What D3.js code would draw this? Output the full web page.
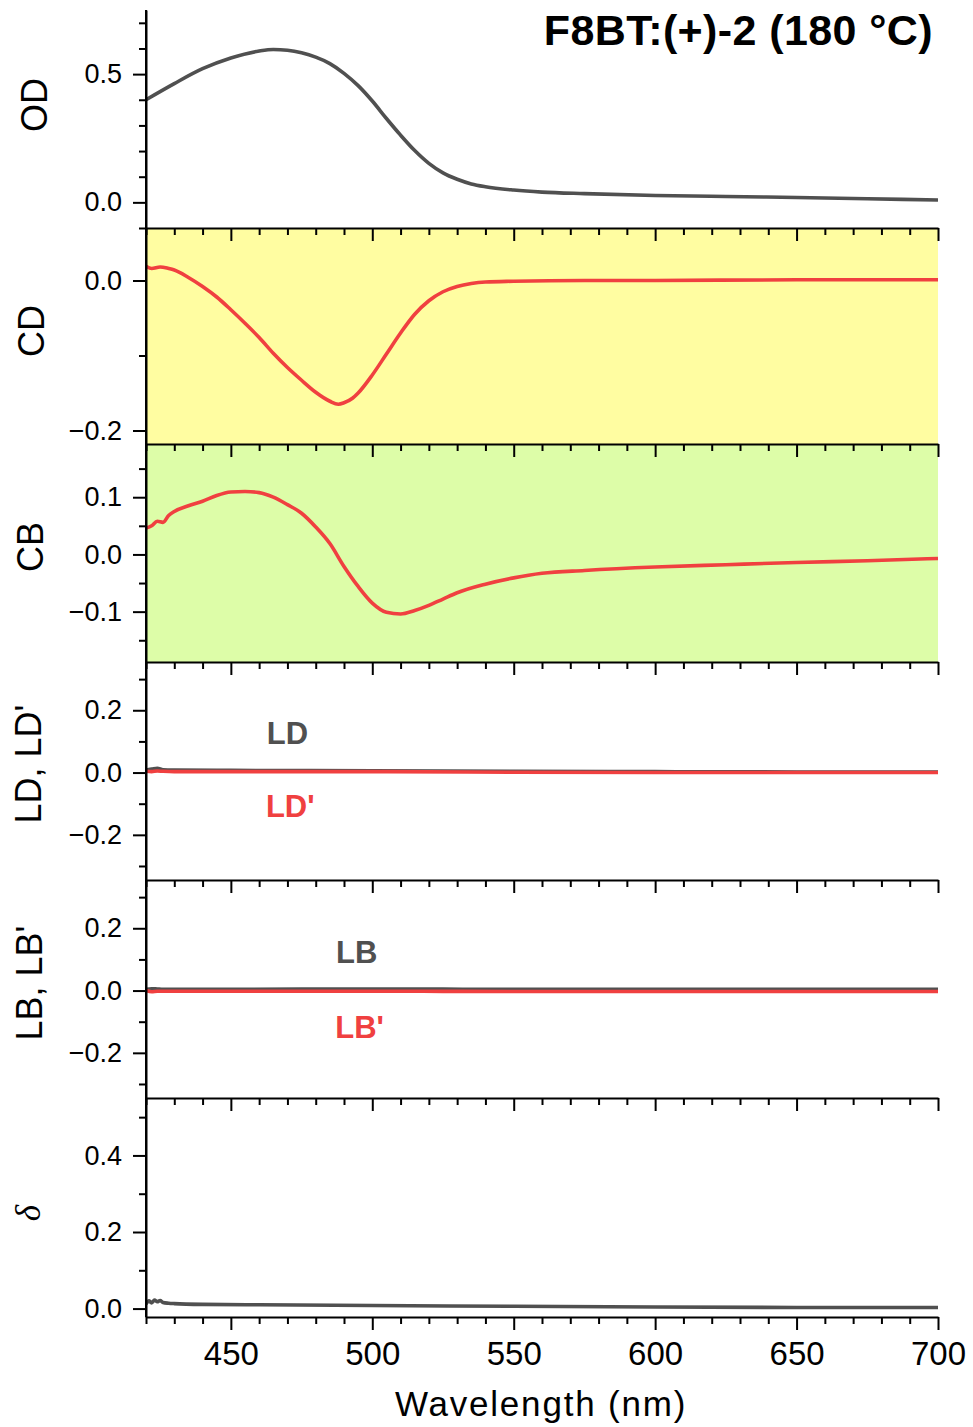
<!DOCTYPE html>
<html>
<head>
<meta charset="utf-8">
<script src="https://cdn.jsdelivr.net/npm/d3@7"></script>
<style>
  body { margin: 0; background: #fff; }
  text { font-family: "Liberation Sans", Arial, sans-serif; }
</style>
</head>
<body>
<div id="chart"></div>
<script>
// spectra (wavelength in nm)
let odWl  = [420, 430, 440, 450, 460, 465, 470, 475, 480, 485, 490, 495, 500, 505, 510, 515, 520, 525, 530, 535, 540, 550, 560, 575, 600, 625, 650, 675, 700]
let odVal = [0.400, 0.463, 0.521, 0.563, 0.590, 0.596, 0.593, 0.583, 0.566, 0.541, 0.503, 0.455, 0.395, 0.327, 0.262, 0.202, 0.152, 0.115, 0.090, 0.072, 0.061, 0.048, 0.040, 0.034, 0.027, 0.023, 0.019, 0.014, 0.009]

let cdWl  = [420, 422, 425, 428, 430, 435, 440, 445, 450, 455, 460, 465, 470, 475, 480, 485, 488, 490, 493, 495, 500, 505, 510, 515, 520, 525, 530, 535, 540, 550, 575, 600, 650, 700]
let cdVal = [0.019, 0.016, 0.018, 0.016, 0.014, 0.004, -0.008, -0.022, -0.039, -0.057, -0.076, -0.097, -0.116, -0.133, -0.149, -0.161, -0.165, -0.163, -0.157, -0.150, -0.126, -0.098, -0.070, -0.045, -0.027, -0.015, -0.008, -0.004, -0.002, -0.001, 0.000, 0.000, 0.001, 0.001]

let cbWl  = [420, 422, 424, 426, 428, 430, 435, 440, 445, 450, 455, 460, 465, 470, 475, 480, 485, 490, 495, 500, 505, 510, 515, 520, 525, 530, 540, 550, 560, 575, 600, 625, 650, 675, 700]
let cbVal = [0.046, 0.050, 0.058, 0.056, 0.068, 0.075, 0.085, 0.093, 0.103, 0.109, 0.110, 0.108, 0.100, 0.087, 0.072, 0.048, 0.019, -0.021, -0.056, -0.085, -0.101, -0.104, -0.098, -0.089, -0.078, -0.067, -0.052, -0.041, -0.033, -0.028, -0.022, -0.018, -0.014, -0.011, -0.007]

let linWl  = [420, 422, 424, 426, 430, 450, 500, 550, 600, 650, 700]
let ldVal  = [0.008, 0.011, 0.014, 0.009, 0.008, 0.007, 0.006, 0.004, 0.003, 0.002, 0.002]
let ldpVal = [0.004, 0.003, 0.005, 0.004, 0.003, 0.003, 0.003, 0.001, 0.000, 0.000, 0.000]
let lbVal  = [0.004, 0.006, 0.005, 0.004, 0.004, 0.004, 0.005, 0.004, 0.004, 0.004, 0.004]
let lbpVal = [0.000, -0.004, -0.002, -0.002, -0.002, -0.002, -0.002, -0.003, -0.003, -0.003, -0.003]

let dWl  = [420, 421, 422, 423, 424, 425, 426, 428, 430, 440, 460, 500, 550, 600, 650, 700]
let dVal = [0.012, 0.020, 0.015, 0.022, 0.018, 0.021, 0.016, 0.014, 0.013, 0.011, 0.010, 0.008, 0.006, 0.004, 0.003, 0.003]

// ticks
let xMajor = [450, 500, 550, 600, 650, 700]
let xMinor = [420, 430, 440, 460, 470, 480, 490, 510, 520, 530, 540, 560, 570, 580, 590, 610, 620, 630, 640, 660, 670, 680, 690]
let odMajor = [0.0, 0.5],          odMinor = [-0.1, 0.1, 0.2, 0.3, 0.4, 0.6, 0.7]
let cdMajor = [-0.2, 0.0],         cdMinor = [-0.1]
let cbMajor = [-0.1, 0.0, 0.1],    cbMinor = [-0.15, -0.05, 0.05, 0.15]
let lMajor  = [-0.2, 0.0, 0.2],    lMinor  = [-0.3, -0.1, 0.1, 0.3]
let dMajor  = [0.0, 0.2, 0.4],     dMinor  = [0.1, 0.3, 0.5]

let gray = "#505050"
let red = "#f04040"

let width = 973, height = 1427
let svg = d3.select("#chart").append("svg")
    .attr("width", width)
    .attr("height", height)

let x = d3.scaleLinear().domain([420, 700]).range([146, 938])

let panels = [
    {title: "OD", top: 10, bottom: 228, domain: [-0.1, 0.75], major: odMajor, minor: odMinor, fill: null, topAxis: false,
     titleX: 47, titleY: 105, series: [{wl: odWl, val: odVal, color: gray}]},
    {title: "CD", top: 228, bottom: 444, domain: [-0.218, 0.07], major: cdMajor, minor: cdMinor, fill: "#fffda1", topAxis: true,
     titleX: 44, titleY: 331, series: [{wl: cdWl, val: cdVal, color: red}]},
    {title: "CB", top: 444, bottom: 662, domain: [-0.188, 0.193], major: cbMajor, minor: cbMinor, fill: "#ddfda8", topAxis: true,
     titleX: 43, titleY: 547, series: [{wl: cbWl, val: cbVal, color: red}]},
    {title: "LD, LD'", top: 662, bottom: 880, domain: [-0.345, 0.355], major: lMajor, minor: lMinor, fill: null, topAxis: true,
     titleX: 41, titleY: 764, series: [{wl: linWl, val: ldVal, color: gray}, {wl: linWl, val: ldpVal, color: red}],
     notes: [{text: "LD", wl: 470, v: 0.092, color: gray}, {text: "LD'", wl: 471, v: -0.142, color: red}]},
    {title: "LB, LB'", top: 880, bottom: 1098, domain: [-0.345, 0.355], major: lMajor, minor: lMinor, fill: null, topAxis: true,
     titleX: 42, titleY: 983, series: [{wl: linWl, val: lbVal, color: gray}, {wl: linWl, val: lbpVal, color: red}],
     notes: [{text: "LB", wl: 494.5, v: 0.09, color: gray}, {text: "LB'", wl: 495.5, v: -0.152, color: red}]},
    {title: "δ", top: 1098, bottom: 1317, domain: [-0.022, 0.55], major: dMajor, minor: dMinor, fill: null, topAxis: true,
     titleX: 40, titleY: 1213, italic: true, series: [{wl: dWl, val: dVal, color: gray}]}
]

let fmt = d3.format(".1f")

panels.forEach((p, i) => {
    let y = d3.scaleLinear().domain(p.domain).range([p.bottom, p.top])
    let g = svg.append("g")

    if (p.fill) {
        g.append("rect")
            .attr("x", x.range()[0]).attr("y", p.top)
            .attr("width", x.range()[1] - x.range()[0])
            .attr("height", p.bottom - p.top)
            .attr("fill", p.fill)
    }

    // clip the traces to the panel
    g.append("clipPath").attr("id", "clip" + i)
        .append("rect")
        .attr("x", x.range()[0]).attr("y", p.top)
        .attr("width", x.range()[1] - x.range()[0])
        .attr("height", p.bottom - p.top)

    p.series.forEach(s => {
        let pts = s.wl.map((w, k) => [w, s.val[k]])
        let line = d3.line()
            .x(d => x(d[0]))
            .y(d => y(d[1]))
            .curve(d3.curveMonotoneX)
        g.append("path")
            .datum(pts)
            .attr("clip-path", "url(#clip" + i + ")")
            .attr("d", line)
            .attr("fill", "none")
            .attr("stroke", s.color)
            .attr("stroke-width", 3.6)
            .attr("stroke-linejoin", "round")
    })

    // left axis, major + minor
    let yAx = g.append("g").attr("transform", "translate(" + x.range()[0] + ",0)")
        .call(d3.axisLeft(y).tickValues(p.major).tickSize(13).tickSizeOuter(0).tickPadding(11).tickFormat(fmt))
    g.append("g").attr("transform", "translate(" + x.range()[0] + ",0)")
        .call(d3.axisLeft(y).tickValues(p.minor).tickSize(7).tickSizeOuter(0).tickFormat(""))
        .select(".domain").remove()
    yAx.selectAll("text").style("font-size", "27px").attr("fill", "#000")

    // top edge with inward ticks
    if (p.topAxis) {
        g.append("g").attr("transform", "translate(0," + p.top + ")")
            .call(d3.axisBottom(x).tickValues(xMajor).tickSize(13).tickSizeOuter(0).tickFormat(""))
        g.append("g").attr("transform", "translate(0," + p.top + ")")
            .call(d3.axisBottom(x).tickValues(xMinor).tickSize(7).tickSizeOuter(0).tickFormat(""))
            .select(".domain").remove()
    }

    // bottom panel gets the labelled wavelength axis
    if (i === panels.length - 1) {
        let xAx = g.append("g").attr("transform", "translate(0," + p.bottom + ")")
            .call(d3.axisBottom(x).tickValues(xMajor).tickSize(13).tickSizeOuter(0).tickPadding(12).tickFormat(d3.format("d")))
        g.append("g").attr("transform", "translate(0," + p.bottom + ")")
            .call(d3.axisBottom(x).tickValues(xMinor).tickSize(7).tickSizeOuter(0).tickFormat(""))
            .select(".domain").remove()
        xAx.selectAll("text").style("font-size", "33px").attr("fill", "#000")
    }

    // axis title
    g.append("text")
        .attr("transform", "translate(" + p.titleX + "," + p.titleY + ") rotate(-90)")
        .attr("text-anchor", "middle")
        .style("font-size", p.italic ? "35px" : "36px")
        .style("font-family", p.italic ? "'Liberation Serif', 'Times New Roman', serif" : null)
        .style("font-style", p.italic ? "italic" : null)
        .text(p.title)

    if (p.notes) {
        p.notes.forEach(n => {
            g.append("text")
                .attr("x", x(n.wl)).attr("y", y(n.v))
                .attr("text-anchor", "middle")
                .attr("fill", n.color)
                .style("font-size", "31px")
                .style("font-weight", "bold")
                .text(n.text)
        })
    }
})

svg.selectAll(".domain, .tick line")
    .attr("stroke", "#000")
    .attr("stroke-width", 2)

// left spine runs the full height of the stack
svg.append("line")
    .attr("x1", x.range()[0]).attr("x2", x.range()[0])
    .attr("y1", panels[0].top).attr("y2", panels[panels.length - 1].bottom)
    .attr("stroke", "#000").attr("stroke-width", 2)

svg.append("text")
    .attr("x", 541).attr("y", 1416)
    .attr("text-anchor", "middle")
    .style("font-size", "35px")
    .style("letter-spacing", "1.8px")
    .text("Wavelength (nm)")

svg.append("text")
    .attr("x", 933).attr("y", 45)
    .attr("text-anchor", "end")
    .style("font-size", "43px")
    .style("font-weight", "bold")
    .style("letter-spacing", "0.4px")
    .text("F8BT:(+)-2 (180 °C)")
</script>
</body>
</html>
